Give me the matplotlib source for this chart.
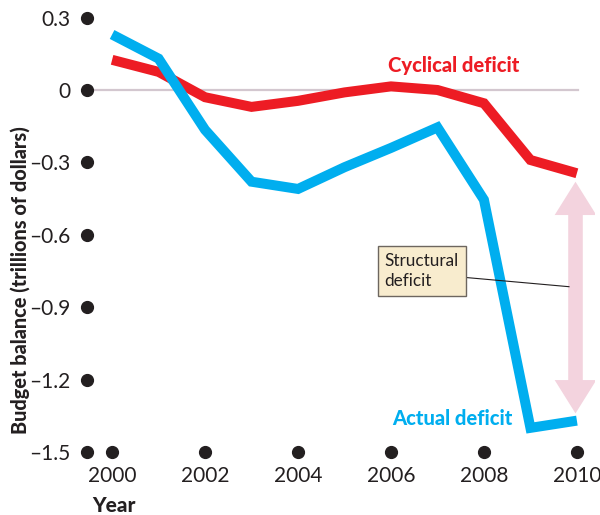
import matplotlib
matplotlib.use("Agg")
import matplotlib.pyplot as plt
from matplotlib.patches import FancyArrowPatch

plt.rcParams['font.family'] = ['Lato', 'DejaVu Sans']

years = [2000, 2001, 2002, 2003, 2004, 2005, 2006, 2007, 2008, 2009, 2010]
cyclical = [0.125, 0.075, -0.03, -0.07, -0.045, -0.01, 0.015, 0.0, -0.055, -0.29, -0.345]
actual = [0.23, 0.13, -0.165, -0.38, -0.41, -0.32, -0.24, -0.155, -0.455, -1.40, -1.37]
yticks = [0.3, 0.0, -0.3, -0.6, -0.9, -1.2, -1.5]
ytick_labels = ['0.3', '0', '\u20130.3', '\u20130.6', '\u20130.9', '\u20131.2', '\u20131.5']
xticks = [2000, 2002, 2004, 2006, 2008, 2010]
xtick_labels = ['2000', '2002', '2004', '2006', '2008', '2010']
structural_top = -0.38
structural_bottom = -1.34

RED = '#ed1c24'
BLUE = '#00aeef'
TXT = '#231f20'

fig = plt.figure(figsize=(6.0, 5.15), dpi=100)
ax = fig.add_axes([0.145, 0.1223, 0.8467, 0.8583])
x0 = 1999.46
ax.set_xlim(x0, 2010.39)
ax.set_ylim(-1.5, 0.3315)
for s in ax.spines.values():
    s.set_visible(False)

# zero line
ax.plot([x0, 2010.02], [0, 0], color='#d3c7cf', lw=1.6, zorder=1)

ax.plot(years, cyclical, color=RED, lw=7.2, solid_joinstyle='miter', solid_capstyle='butt', zorder=3)
ax.plot(years, actual, color=BLUE, lw=7.2, solid_joinstyle='miter', solid_capstyle='butt', zorder=3)

# tick dots
ax.plot([x0] * len(yticks), yticks, 'o', color=TXT, ms=8.5, clip_on=False, zorder=4)
ax.plot(xticks, [-1.5] * len(xticks), 'o', color=TXT, ms=8.5, clip_on=False, zorder=4)

ax.set_yticks(yticks)
ax.set_yticklabels(ytick_labels)
ax.set_xticks(xticks)
ax.set_xticklabels(xtick_labels)
ax.tick_params(axis='y', length=0, pad=12, labelsize=15, labelcolor=TXT)
ax.tick_params(axis='x', length=0, pad=10, labelsize=15, labelcolor=TXT)

# structural deficit arrow
arr = FancyArrowPatch((2009.97, structural_top), (2009.97, structural_bottom),
                      arrowstyle='<|-|>,head_length=1.6,head_width=1.0',
                      mutation_scale=15, lw=0, color='#f3d3de',
                      shrinkA=0, shrinkB=0, zorder=2)
ax.add_patch(arr)
ax.plot([2009.97, 2009.97], [structural_top - 0.12, structural_bottom + 0.12],
        color='#f3d3de', lw=10.5, solid_capstyle='butt', zorder=2)

# annotation box and leader line
ax.plot([2007.5, 2009.83], [-0.775, -0.815], color=TXT, lw=0.8, zorder=5)
ax.text(2005.86, -0.75, 'Structural\ndeficit', fontsize=12.3, color=TXT,
        ha='left', va='center', linespacing=1.3, zorder=6,
        bbox=dict(boxstyle='square,pad=0.4', facecolor='#f8ecce', edgecolor='#6d665f', lw=1.0))

ax.text(2007.35, 0.10, 'Cyclical deficit', color=RED, fontsize=14.5, fontweight='black',
        ha='center', va='center')
ax.text(2008.62, -1.36, 'Actual deficit', color=BLUE, fontsize=14.5, fontweight='black',
        ha='right', va='center')

fig.text(0.034, 0.456, 'Budget balance (trillions of dollars)', rotation=90,
         ha='center', va='center', fontsize=14.3, fontweight='black', color=TXT)
fig.text(0.19, 0.006, 'Year', ha='center', va='baseline', fontsize=15,
         fontweight='black', color=TXT)

fig.savefig('out.png', dpi=100)
